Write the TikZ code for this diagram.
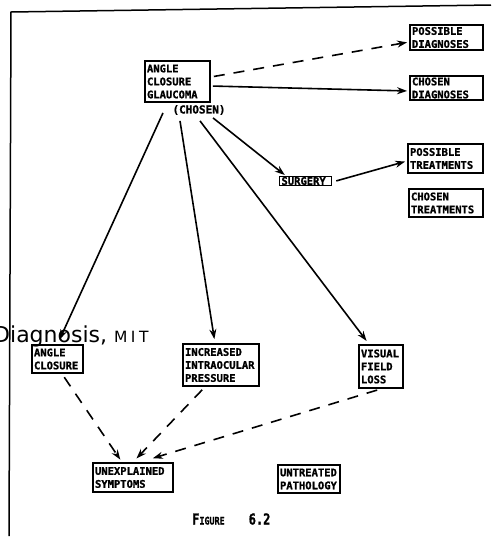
\documentclass[tikz,border=0pt]{standalone}
\usepackage{fontspec}
\usepackage{graphicx}
\usetikzlibrary{arrows.meta}
\newfontfamily\boxfont{DejaVu Sans Mono}[BoldFeatures={FakeBold=1.2}]
\newfontfamily\webfont{DejaVu Sans}
\tikzset{
  lbl/.style={draw, line width=1.8pt, inner xsep=2pt, inner ysep=1.5pt,
    font=\boxfont\bfseries\fontsize{10.5}{13}\selectfont, align=left},
  sol/.style={line width=1.6pt, -{Stealth[length=10pt,width=7pt]}},
  dsh/.style={sol, dash pattern=on 11pt off 9pt},
  frame/.style={line width=1.5pt}
}
\begin{document}
\begin{tikzpicture}[x=1pt,y=-1pt]
\useasboundingbox (0,0) rectangle (491,539);
\draw[frame] (491,5) -- (11,12) -- (9,536);

\node[lbl, text width=61pt, minimum height=41pt] (acg) at (177.5,81.5) {ANGLE\\CLOSURE\\GLAUCOMA};
\node[font=\boxfont\bfseries\fontsize{11}{11}\selectfont, inner sep=1pt] (chosen) at (199,110) {(CHOSEN)};
\node[lbl, text width=69pt, minimum height=25pt] (possdx) at (446.5,37.5) {POSSIBLE\\DIAGNOSES};
\node[lbl, text width=69pt, minimum height=24pt] (chosdx) at (446.5,88) {CHOSEN\\DIAGNOSES};
\node[lbl, text width=71pt, minimum height=29pt] (posstx) at (445.5,158.5) {POSSIBLE\\TREATMENTS};
\node[lbl, text width=70pt, minimum height=28pt] (chostx) at (446,203) {CHOSEN\\TREATMENTS};
\node[lbl, text width=48pt, inner ysep=0.5pt] (surg) at (305.5,181) {SURGERY};
\node[lbl, text width=47pt, minimum height=28pt] (ac) at (57.5,359) {ANGLE\\CLOSURE};
\node[lbl, text width=72pt, minimum height=42pt] (iop) at (221,365) {INCREASED\\INTRAOCULAR\\PRESSURE};
\node[lbl, text width=40pt, minimum height=43pt] (vfl) at (381,366.5) {VISUAL\\FIELD\\LOSS};
\node[lbl, text width=76pt, minimum height=29pt] (unexp) at (133,477.5) {UNEXPLAINED\\SYMPTOMS};
\node[lbl, text width=58pt, minimum height=28pt] (untr) at (309,479) {UNTREATED\\PATHOLOGY};
\node[anchor=base west, inner sep=0pt, font=\boxfont\bfseries] (fig) at (192,524.5)
  {\scalebox{0.8}[1]{\fontsize{15}{15}\selectfont F\fontsize{10.5}{15}\selectfont IGURE\hspace{30pt}\fontsize{15}{15}\selectfont 6.2}};

% solid arrows
\draw[dsh, shorten <=3pt, shorten >=2pt] ([yshift=4.5pt]acg.east) -- ([yshift=-4.5pt]possdx.west);
\draw[sol, shorten <=2pt, shorten >=2pt] ([yshift=-4.5pt]acg.east) -- ([yshift=-3pt]chosdx.west);
\draw[sol, shorten >=5pt] ([xshift=-14.5pt,yshift=-10pt]acg.south) -- (ac.north);
\draw[sol, shorten >=4pt] ([xshift=2.5pt,yshift=-18pt]acg.south) -- ([xshift=-6pt]iop.north);
\draw[sol, shorten >=4pt] ([xshift=22.5pt,yshift=-18pt]acg.south) -- ([xshift=-12pt]vfl.north);
\draw[sol, shorten >=1pt] ([xshift=35.5pt,yshift=-15pt]acg.south) -- ([xshift=7pt]surg.north west);
\draw[sol, shorten <=4pt, shorten >=2pt] ([yshift=-1pt]surg.east) -- ([yshift=-2.5pt]posstx.west);

% dashed arrows
\draw[dsh, shorten <=4pt, shorten >=3pt] ([xshift=4.5pt]ac.south) -- ([xshift=-11pt]unexp.north);
\draw[dsh, shorten <=4pt, shorten >=5pt] ([xshift=-16pt]iop.south) -- (unexp.north);
\draw[dsh, shorten <=4pt, shorten >=3pt] (vfl.south) -- ([xshift=17pt,yshift=3pt]unexp.north);

\node[anchor=base west, inner sep=0pt, font=\webfont\fontsize{22}{22}\selectfont] (web) at (-7,342)
  {Diagnosis, {\fontsize{15.5}{16}\selectfont M\hspace{3.5pt}I\hspace{3.5pt}T}};
\end{tikzpicture}
\end{document}
